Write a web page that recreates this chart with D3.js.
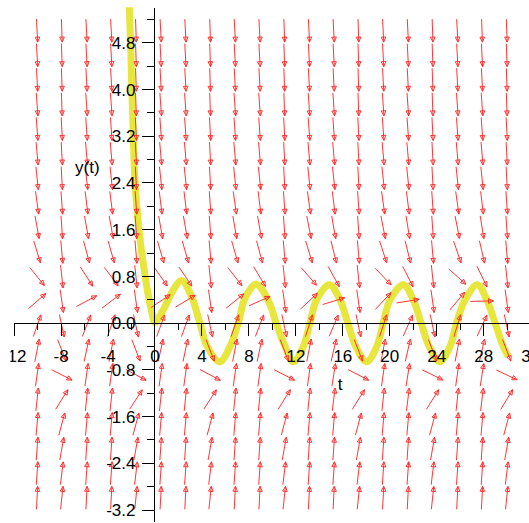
<!DOCTYPE html>
<html><head><meta charset="utf-8">
<script src="https://cdn.jsdelivr.net/npm/d3@7"></script>
<style>html,body{margin:0;padding:0;background:#fff;overflow:hidden}svg{display:block}</style>
</head><body>
<script>
// ---- data ----
const tGrid = [-10, -7.895, -5.789, -3.684, -1.579, 0.526, 2.632, 4.737, 6.842, 8.947,
  11.053, 13.158, 15.263, 17.368, 19.474, 21.579, 23.684, 25.789, 27.895, 30];
const yGrid = [5, 4.579, 4.158, 3.737, 3.316, 2.895, 2.474, 2.053, 1.632, 1.211,
  0.789, 0.368, -0.053, -0.474, -0.895, -1.316, -1.737, -2.158, -2.579, -3];
// on-screen arrow angle in degrees (up positive), one list per column, rows top to bottom
const arrowAngles = [
  [-87,-87,-87,-86,-86,-85,-84,-82,-80,-73,-51,41,71,79,82,84,85,86,86,87],
  [-88,-88,-88,-88,-87,-87,-87,-86,-86,-85,-84,-82,-78,-69,-27,58,75,80,83,84],
  [-87,-87,-87,-86,-86,-85,-84,-83,-80,-75,-57,28,69,78,82,84,85,86,86,87],
  [-87,-87,-87,-86,-86,-85,-84,-83,-80,-74,-53,37,71,79,82,84,85,86,86,87],
  [-88,-88,-88,-88,-87,-87,-87,-86,-86,-85,-84,-82,-78,-69,-28,57,75,80,83,84],
  [-87,-87,-87,-86,-86,-85,-84,-83,-80,-74,-55,34,70,78,82,84,85,86,86,87],
  [-87,-87,-87,-86,-86,-85,-84,-83,-80,-74,-56,31,70,78,82,84,85,86,86,87],
  [-88,-88,-88,-88,-87,-87,-87,-86,-86,-85,-84,-82,-78,-69,-28,57,75,80,83,84],
  [-87,-87,-87,-86,-86,-85,-84,-82,-80,-74,-52,39,71,79,82,84,85,86,86,87],
  [-87,-87,-87,-86,-86,-85,-84,-83,-80,-75,-59,24,69,78,82,84,85,86,86,87],
  [-88,-88,-88,-88,-87,-87,-87,-86,-86,-85,-84,-82,-78,-69,-27,58,75,80,83,84],
  [-87,-87,-87,-86,-86,-85,-84,-82,-79,-73,-49,43,72,79,82,84,85,86,86,87],
  [-87,-87,-87,-86,-86,-85,-84,-83,-80,-76,-61,17,67,77,81,83,85,86,86,87],
  [-88,-88,-88,-88,-87,-87,-87,-86,-86,-85,-84,-82,-78,-69,-27,58,75,80,83,84],
  [-87,-87,-87,-86,-86,-85,-84,-82,-79,-72,-46,47,72,79,82,84,85,86,86,87],
  [-87,-87,-87,-86,-86,-85,-84,-83,-81,-76,-63,9,66,77,81,83,85,86,86,87],
  [-88,-88,-88,-88,-87,-87,-87,-86,-86,-85,-84,-82,-78,-69,-26,58,75,80,83,84],
  [-87,-87,-87,-86,-86,-85,-84,-82,-79,-71,-42,50,73,79,82,84,85,86,86,87],
  [-88,-87,-87,-86,-86,-85,-84,-83,-81,-77,-64,1,65,77,81,83,85,86,86,87],
  [-88,-88,-88,-88,-87,-87,-87,-86,-86,-85,-84,-82,-78,-69,-25,59,75,80,83,84]
];
const curveT = [-2.16,-2.04,-1.93,-1.81,-1.66,-1.38,-1.04,-0.61,-0.21,0.02,0.75,1.6,2.3,3.17,3.85,4.5,5.55,6.43,7.14,7.71,8.6,9.0,9.84,10.35,11.12,11.82,12.67,13.25,13.8,14.9,15.8,16.45,17.15,18.07,18.93,19.49,20.06,21.2,22.04,22.7,23.4,24.32,25.17,25.74,26.45,27.5,28.3,29.0,29.71,30.14];
const curveY = [5.5,4.8,4.01,3.21,2.40,1.70,1.13,0.56,0.16,0.0,0.22,0.56,0.72,0.44,0.0,-0.41,-0.67,-0.41,0.0,0.42,0.66,0.61,0.31,0.0,-0.41,-0.67,-0.41,0.0,0.39,0.65,0.39,0.0,-0.41,-0.67,-0.41,0.0,0.39,0.65,0.39,0.0,-0.41,-0.67,-0.41,0.0,0.39,0.65,0.39,0.0,-0.41,-0.58];
const xMajorTicks = [-12,-8,-4,0,4,8,12,16,20,24,28,32];
const xMinorTicks = [-10,-6,-2,2,6,10,14,18,22,26,30];
const yMajorTicks = [-3.2,-2.4,-1.6,-0.8,0.0,0.8,1.6,2.4,3.2,4.0,4.8];
const yMinorTicks = [-2.8,-2.0,-1.2,-0.4,0.4,1.2,2.0,2.8,3.6,4.4,5.2];
const xLabel = "t", yLabel = "y(t)";

// ---- drawing ----
const W = 529, H = 523;
const FONT = "'Liberation Sans', Arial, Helvetica, sans-serif";
const svg = d3.select("body").append("svg").attr("width", W).attr("height", H);
const x = d3.scaleLinear().domain([-12, 32]).range([13.6, 530.2]);
const y = d3.scaleLinear().domain([-3.4, 5.4]).range([521.2, 7.24]);

const defs = svg.append("defs");
defs.append("clipPath").attr("id", "plotclip").append("rect")
  .attr("x", 0).attr("y", y(5.4)).attr("width", W).attr("height", H);
defs.append("clipPath").attr("id", "xlabclip").append("rect")
  .attr("x", 10.5).attr("y", 0).attr("width", W).attr("height", H);

// solution curve
const pts = curveT.map((t, i) => [t, curveY[i]]);
svg.append("path").attr("clip-path", "url(#plotclip)")
  .attr("d", d3.line().x(d => x(d[0])).y(d => y(d[1])).curve(d3.curveCatmullRom.alpha(0.5))(pts))
  .attr("fill", "none").attr("stroke", "#e6e63c").attr("stroke-width", 7)
  .attr("stroke-linejoin", "round");

// direction field arrows
const arrows = [];
tGrid.forEach((t, i) => yGrid.forEach((v, k) => arrows.push({ t, v, a: arrowAngles[i][k] })));
const L = 23, HL = 5, HW = 2.3;
svg.append("g").selectAll("path").data(arrows).join("path")
  .attr("d", d => {
    const cx = x(d.t), cy = y(d.v), r = d.a * Math.PI / 180;
    const dx = Math.cos(r), dy = -Math.sin(r), px = -dy, py = dx;
    const sx = cx - dx * L / 2, sy = cy - dy * L / 2, ex = cx + dx * L / 2, ey = cy + dy * L / 2;
    const bx = ex - dx * HL, by = ey - dy * HL;
    return `M${sx},${sy}L${ex},${ey}M${ex},${ey}L${bx + px * HW},${by + py * HW}L${bx - px * HW},${by - py * HW}Z`;
  })
  .attr("fill", "none").attr("stroke", "#ff2a2a").attr("stroke-width", 0.95);

// x axis
const gx = svg.append("g").attr("transform", `translate(0,${y(0)})`);
gx.call(d3.axisBottom(x).tickValues(xMinorTicks).tickSize(7).tickSizeOuter(0).tickFormat(""));
gx.append("g").attr("clip-path", "url(#xlabclip)")
  .call(d3.axisBottom(x).tickValues(xMajorTicks).tickSize(13).tickSizeOuter(0).tickFormat(d => String(d)));
gx.selectAll(".domain").attr("stroke", "#000").attr("shape-rendering", "crispEdges");
gx.selectAll(".tick line").attr("stroke", "#000").attr("shape-rendering", "crispEdges");
gx.selectAll("text").attr("y", 39.2).attr("dy", null)
  .attr("font-family", FONT).attr("font-size", 17).attr("fill", "#000");

// y axis
const gy = svg.append("g").attr("transform", `translate(${x(0)},0)`);
gy.call(d3.axisLeft(y).tickValues(yMinorTicks).tickSize(7).tickSizeOuter(0).tickFormat(""));
gy.append("g").call(d3.axisLeft(y).tickValues(yMajorTicks).tickSize(12).tickSizeOuter(0).tickFormat(d => d.toFixed(1)));
gy.selectAll(".domain").attr("stroke", "#000").attr("shape-rendering", "crispEdges");
gy.selectAll(".tick line").attr("stroke", "#000").attr("shape-rendering", "crispEdges");
gy.selectAll("text").attr("x", -19).attr("dy", null).attr("y", 6.2)
  .attr("font-family", FONT).attr("font-size", 17).attr("fill", "#000");
svg.selectAll(".domain").attr("stroke-width", 1);
svg.selectAll("g").attr("font-size", null).attr("font-family", null);

// axis titles
svg.append("text").attr("x", x(15.8)).attr("y", 390).attr("text-anchor", "middle")
  .attr("font-family", FONT).attr("font-size", 17).text(xLabel);
svg.append("text").attr("x", 75).attr("y", 173)
  .attr("font-family", FONT).attr("font-size", 17).text(yLabel);
</script>
</body></html>
